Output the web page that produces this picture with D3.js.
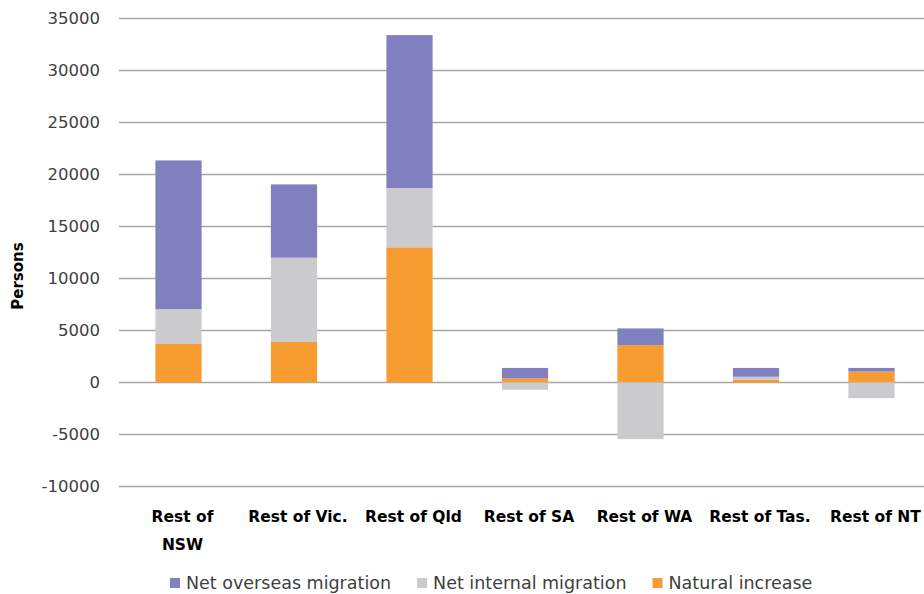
<!DOCTYPE html>
<html>
<head>
<meta charset="utf-8">
<script src="https://cdn.jsdelivr.net/npm/d3@7/dist/d3.min.js"></script>
<style>
  html, body { margin: 0; padding: 0; background: #ffffff; }
  svg { display: block; }
</style>
</head>
<body>
<svg id="chart" width="924" height="594"></svg>
<script>
// ---- data ----
const categories = ["Rest of NSW", "Rest of Vic.", "Rest of Qld", "Rest of SA", "Rest of WA", "Rest of Tas.", "Rest of NT"];
const naturalIncrease      = [3700, 3900, 13000, 400, 3600, 250, 1050];
const netInternalMigration = [3350, 8100, 5700, -700, -5450, 300, -1500];
const netOverseasMigration = [14300, 7050, 14700, 1000, 1600, 850, 350];
const yTicks = [-10000, -5000, 0, 5000, 10000, 15000, 20000, 25000, 30000, 35000];
const seriesNames = ["Natural increase", "Net internal migration", "Net overseas migration"];
const legendOrder = ["Net overseas migration", "Net internal migration", "Natural increase"];
const seriesColors = ["#f79c31", "#cbcbcd", "#8080c0"];
const yAxisTitle = "Persons";

// ---- build table ----
const rows = categories.map((c, i) => ({
  category: c,
  "Natural increase": naturalIncrease[i],
  "Net internal migration": netInternalMigration[i],
  "Net overseas migration": netOverseasMigration[i]
}));

const svg = d3.select("#chart");
const color = d3.scaleOrdinal().domain(seriesNames).range(seriesColors);

const x = d3.scaleBand()
  .domain(categories)
  .range([120.75, 929.25])
  .paddingInner(0.6)
  .paddingOuter(0.3);

const y = d3.scaleLinear()
  .domain([yTicks[0], yTicks[yTicks.length - 1]])
  .range([486.5, 18.5]);

// gridlines
svg.append("g")
  .selectAll("line")
  .data(yTicks)
  .join("line")
  .attr("x1", 119)
  .attr("x2", 924)
  .attr("y1", d => y(d))
  .attr("y2", d => y(d))
  .attr("stroke", "#a6a6a6")
  .attr("stroke-width", 1.4);

// y axis tick labels (plain hyphen minus like the reference)
const yAxis = d3.axisLeft(y).tickValues(yTicks).tickSize(0).tickPadding(0).tickFormat(d => String(d));
const gy = svg.append("g").attr("transform", "translate(100,0)").call(yAxis);
gy.select(".domain").remove();
gy.selectAll("text")
  .attr("font-family", "'DejaVu Sans', sans-serif")
  .attr("font-size", 16.5)
  .attr("fill", "#404040");

// y axis title
svg.append("text")
  .attr("transform", "translate(23,276) rotate(-90)")
  .attr("text-anchor", "middle")
  .attr("font-family", "'DejaVu Sans', sans-serif")
  .attr("font-weight", "bold")
  .attr("font-size", 15)
  .attr("fill", "#000")
  .text(yAxisTitle);

// stacked bars
const stack = d3.stack().keys(seriesNames).offset(d3.stackOffsetDiverging);
const stacked = stack(rows);

svg.append("g")
  .selectAll("g")
  .data(stacked)
  .join("g")
  .attr("fill", d => color(d.key))
  .selectAll("rect")
  .data(d => d)
  .join("rect")
  .attr("x", d => x(d.data.category))
  .attr("width", x.bandwidth())
  .attr("y", d => y(Math.max(d[0], d[1])))
  .attr("height", d => Math.abs(y(d[0]) - y(d[1])));

// category labels (wrapped like the reference)
const catG = svg.append("g")
  .attr("font-family", "'DejaVu Sans', sans-serif")
  .attr("font-weight", "bold")
  .attr("font-size", 15.5)
  .attr("fill", "#000");

categories.forEach((c) => {
  const cx = x(c) + x.bandwidth() / 2 + 4;
  const t = catG.append("text")
    .attr("x", cx)
    .attr("y", 522)
    .attr("text-anchor", "middle");
  const lines = c === "Rest of NSW" ? ["Rest of", "NSW"] : [c];
  lines.forEach((ln, j) => {
    t.append("tspan")
      .attr("x", cx)
      .attr("dy", j === 0 ? 0 : 28)
      .text(ln);
  });
});

// legend
const legend = svg.append("g")
  .attr("font-family", "'DejaVu Sans', sans-serif")
  .attr("font-size", 17.5)
  .attr("fill", "#404040");
let lx = 170;
legendOrder.forEach(name => {
  legend.append("rect")
    .attr("x", lx)
    .attr("y", 578)
    .attr("width", 10)
    .attr("height", 10)
    .attr("fill", color(name));
  const t = legend.append("text")
    .attr("x", lx + 16)
    .attr("y", 588.5)
    .text(name);
  lx = lx + 16 + t.node().getComputedTextLength() + 26;
});
</script>
</body>
</html>
